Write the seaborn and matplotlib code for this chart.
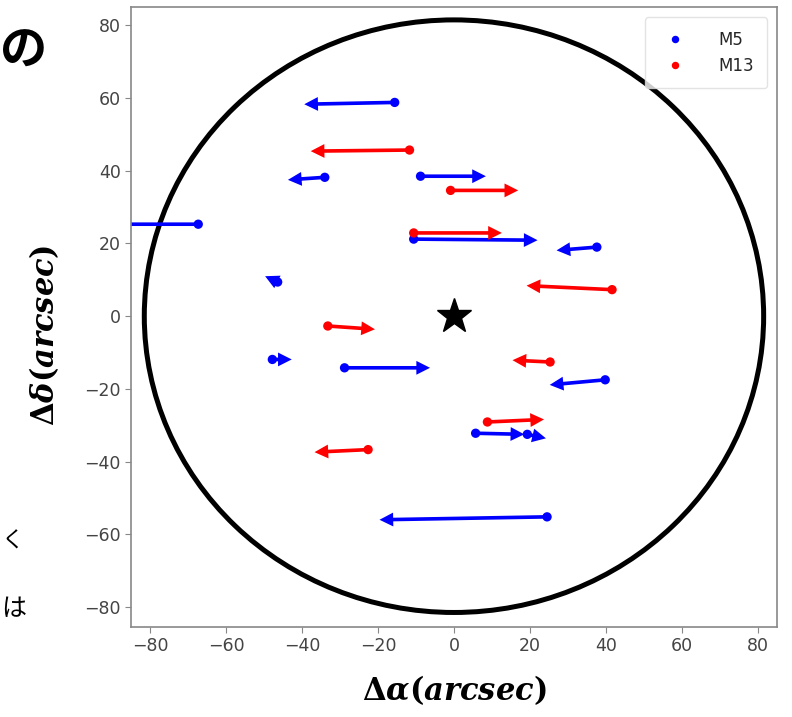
import matplotlib
matplotlib.use("Agg")
import matplotlib.pyplot as plt
import seaborn as sns
import pandas as pd
from matplotlib.patches import Circle

# start points (dots) and end points (arrow tips), arcsec
m5_x0 = [-15.6, -34.0, -67.3, -46.4, -8.8, -10.6, 37.6, 39.8, -47.8, -28.8, 5.7, 19.3, 24.5]
m5_y0 = [58.8, 38.2, 25.3, 9.4, 38.5, 21.2, 19.0, -17.5, -11.9, -14.2, -32.2, -32.5, -55.2]
m5_x1 = [-39.4, -43.7, -100.0, -49.7, 8.4, 22.0, 27.0, 25.2, -42.7, -6.3, 18.5, 24.2, -19.6]
m5_y1 = [58.3, 37.5, 25.3, 11.0, 38.5, 20.9, 18.1, -18.9, -11.9, -14.2, -32.5, -33.6, -56.0]

m13_x0 = [-11.7, -0.9, -10.6, 41.6, 25.3, -33.2, 8.8, -22.6]
m13_y0 = [45.7, 34.6, 22.9, 7.3, -12.6, -2.7, -29.1, -36.7]
m13_x1 = [-37.7, 16.9, 12.6, 19.1, 15.4, -20.8, 23.7, -36.7]
m13_y1 = [45.4, 34.6, 22.9, 8.4, -12.1, -3.6, -28.4, -37.4]

ticks = [-80, -60, -40, -20, 0, 20, 40, 60, 80]
radius = 81.5

df = pd.DataFrame({
    "x": m5_x0 + m13_x0,
    "y": m5_y0 + m13_y0,
    "cluster": ["M5"] * len(m5_x0) + ["M13"] * len(m13_x0),
})

sns.set_style("white")
plt.rcParams["mathtext.fontset"] = "dejavuserif"
fig = plt.figure(figsize=(7.92, 7.17), dpi=100)
ax = fig.add_axes([0.1654, 0.1255, 0.8156, 0.8645])

ax.add_patch(Circle((0, 0), radius, fill=False, color="black", lw=3.6))

for xs, ys, xe, ye, c in [(m5_x0, m5_y0, m5_x1, m5_y1, "blue"),
                          (m13_x0, m13_y0, m13_x1, m13_y1, "red")]:
    for a, b, e, f in zip(xs, ys, xe, ye):
        ax.arrow(a, b, e - a, f - b, width=1.0, head_width=3.8, head_length=3.6,
                 length_includes_head=True, color=c, lw=0)

sns.scatterplot(data=df, x="x", y="y", hue="cluster",
                palette={"M5": "blue", "M13": "red"}, s=45, edgecolor="none", ax=ax)
ax.plot(0, 0, marker="*", ms=26, color="black", lw=0)

ax.set_xlim(-85, 85)
ax.set_ylim(-85.5, 85)
ax.set_xticks(ticks)
ax.set_yticks(ticks)
ax.tick_params(axis="both", labelsize=12.5, colors="#444444", length=4, direction="out",
               bottom=True, left=True)
ax.tick_params(axis="both", color="#888888")
for s in ax.spines.values():
    s.set_color("#888888")
    s.set_linewidth(1.2)

ax.set_xlabel(r"$\mathbf{\Delta}\boldsymbol{\alpha}\mathbf{(}\boldsymbol{arcsec}\mathbf{)}$",
              fontsize=22, color="black")
ax.set_ylabel(r"$\mathbf{\Delta}\boldsymbol{\delta}\mathbf{(}\boldsymbol{arcsec}\mathbf{)}$",
              fontsize=22, color="black")
ax.xaxis.set_label_coords(0.5, -0.074)
ax.yaxis.set_label_coords(-0.108, 0.47)

leg = ax.legend(loc="upper right", fontsize=12, frameon=True, handletextpad=1.6,
                borderpad=0.8, markerscale=0.8, borderaxespad=0.6)
leg.get_frame().set_edgecolor("#dddddd")

# slide text fragments around the chart
jp = ["Noto Sans CJK JP", "DejaVu Sans"]
fig.text(0.0, 0.93, "の", fontsize=34, fontweight="bold", family=jp, color="black",
         va="center", ha="left")
fig.text(0.002, 0.245, "く", fontsize=16, family=jp, color="black", va="center", ha="left")
fig.text(0.002, 0.15, "は", fontsize=18, family=jp, color="black", va="center", ha="left")

fig.savefig("out.png", dpi=100)
